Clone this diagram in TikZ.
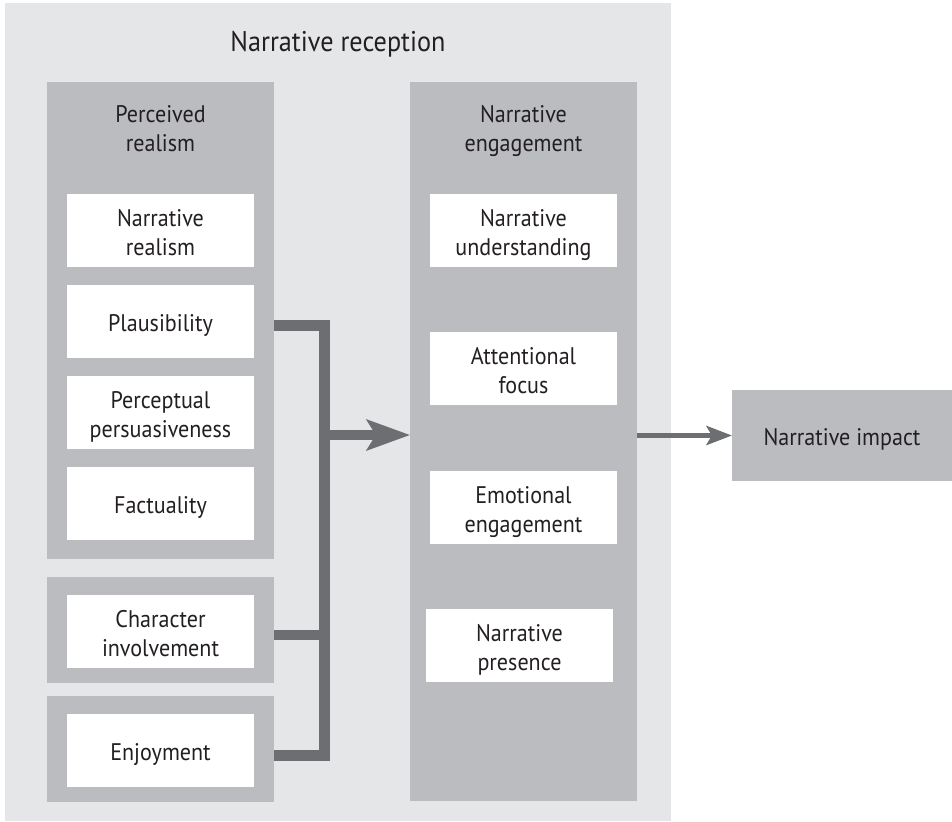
\documentclass[tikz,border=0pt]{standalone}
\usepackage{fontspec}
\setmainfont[FakeStretch=0.92]{PT Sans}
\usetikzlibrary{arrows.meta}

\definecolor{bgpale}{HTML}{E5E6E8}
\definecolor{boxgray}{HTML}{BBBCC0}
\definecolor{linkgray}{HTML}{6D6E71}
\definecolor{ink}{HTML}{231F20}

\begin{document}
\begin{tikzpicture}[x=1pt, y=-1pt,
  % struts sit on the last baseline: they fix the text block so that
  % the mean baseline lies 10pt below the node centre
  txt/.style={text=ink, align=center, inner sep=0pt,
    font=\fontsize{24}{29}\selectfont,
    execute at begin node={\rule{0pt}{27pt}},
    execute at end node={\rule[-7pt]{0pt}{7pt}}},
  two/.style={execute at begin node={\rule{0pt}{56pt}}},
  panel/.style={fill=boxgray, draw=none, inner sep=0pt, minimum width=227pt},
  card/.style={txt, fill=white, minimum width=187pt, minimum height=73pt},
  link/.style={draw=linkgray, line width=10.5pt, line join=miter},
  thinlink/.style={draw=linkgray, line width=5.5pt}
]
\useasboundingbox (0,0) rectangle (952,821);

% outer frame
\node[fill=bgpale, inner sep=0pt, minimum width=666pt, minimum height=818pt] (frame) at (338,412) {};
\node[text=ink, inner sep=0pt, anchor=base, font=\fontsize{28.5}{34}\selectfont] (title) at (338,52) {Narrative reception};

% left column: perceived realism
\node[panel, minimum height=477pt] (perc) at (160.5,320.5) {};
\node[txt, two] (perchead) at (160.5,127.5) {Perceived\\realism};
\node[card, two] (nreal) at (160.5,230.5) {Narrative\\realism};
\node[card] (plaus) at (160.5,321.5) {Plausibility};
\node[card, two] (persu) at (160.5,412.5) {Perceptual\\persuasiveness};
\node[card] (fact)  at (160.5,503.5) {Factuality};

% left column: character involvement and enjoyment
\node[panel, minimum height=106pt] (charbox) at (160.5,630) {};
\node[card, two] (charw) at (160.5,631.5) {Character\\involvement};
\node[panel, minimum height=106pt] (enjbox) at (160.5,749) {};
\node[card] (enjw) at (160.5,750.5) {Enjoyment};

% middle column: narrative engagement
\node[panel, minimum height=719pt] (eng) at (523.5,441.5) {};
\node[txt, two] (enghead) at (523.5,127.5) {Narrative\\engagement};
\node[card, two] (under) at (523.5,230.5) {Narrative\\understanding};
\node[card, two] (attn)  at (523.5,368.5) {Attentional\\focus};
\node[card, two] (emo)   at (523.5,507.5) {Emotional\\engagement};
\node[card, two] (pres)  at (519.5,645.5) {Narrative\\presence};

% outcome
\node[txt, fill=boxgray, minimum width=220pt, minimum height=91pt] (impact) at (842,435.5) {Narrative impact};

% connectors
\path (perc.east |- plaus.east) ++(0,4) coordinate (pin);
\path (charbox.east |- charw.east) ++(0,3.5) coordinate (cin);
\path (enjbox.east |- enjw.east) ++(0,5) coordinate (ein);
\coordinate (spine) at (324.5,435);

\draw[link] (pin) -| (spine |- ein) -- (ein);
\draw[link] (cin) -- (spine |- cin);
\draw[link, -{Stealth[length=44pt, width=32pt, inset=10pt, line width=0pt]}] (spine) -- (eng.west |- spine);
\draw[thinlink, -{Stealth[length=26pt, width=20pt, inset=6pt, line width=0pt]}] (eng.east |- impact.west) -- (impact.west);
\end{tikzpicture}
\end{document}
